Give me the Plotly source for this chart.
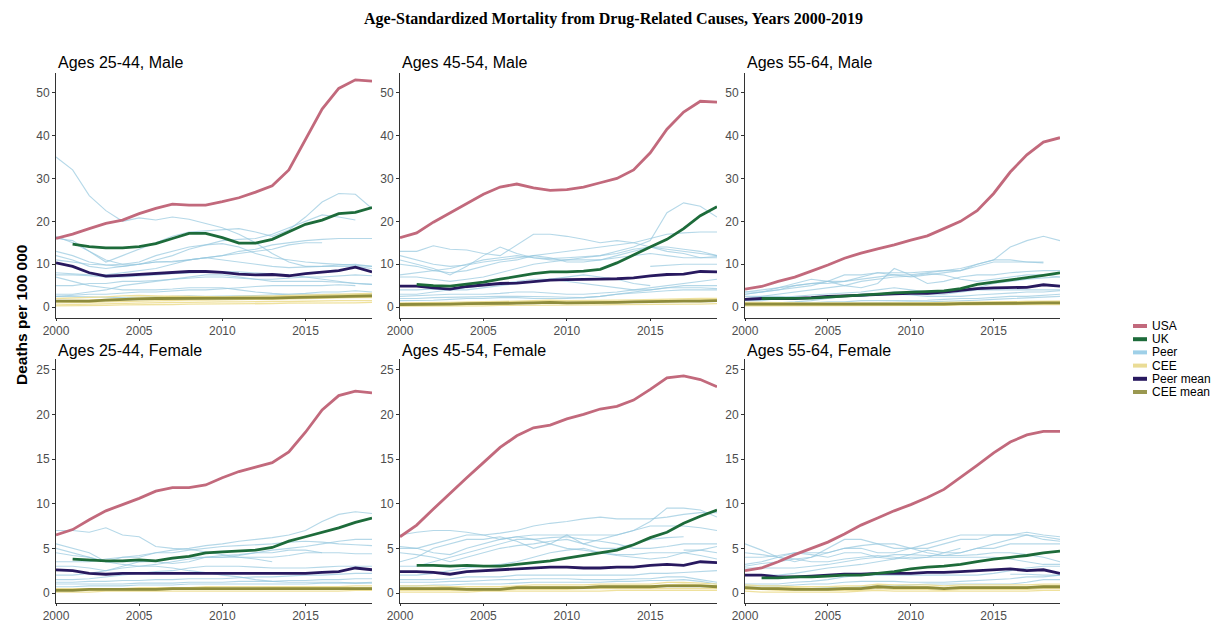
import plotly.graph_objects as go

W, H = 1223, 622
years = list(range(2000, 2020))
N = None

# ---------------- Ages 25-44, Male ----------------
usa_m2544 = [16, 17, 18.3, 19.5, 20.3, 21.8, 23, 24, 23.8, 23.8, 24.6, 25.5, 26.8, 28.3, 32, 39, 46.2, 51, 53, 52.7]
uk_m2544 = [N, 14.7, 14.1, 13.8, 13.8, 14.1, 14.8, 16, 17.2, 17.2, 16.2, 14.9, 14.9, 15.8, 17.5, 19.3, 20.3, 21.8, 22.1, 23.2]
peer_mean_m2544 = [10.3, 9.5, 8, 7.2, 7.4, 7.6, 7.9, 8, 8.3, 8.3, 8.1, 7.7, 7.5, 7.6, 7.3, 7.8, 8.2, 8.5, 9.3, 8.2]
cee_mean_m2544 = [1.4, 1.4, 1.4, 1.6, 1.8, 1.9, 2.0, 2.0, 2.0, 2.0, 2.0, 2.1, 2.1, 2.1, 2.2, 2.3, 2.4, 2.5, 2.5, 2.6]
peer_m2544 = [
    [35, 32, 26, 22.5, 20, 20.8, 20.3, 21, 20.5, 19.5, 18.5, 17, 15, 12.5, 10.5, 9.5, 9.5, 9.6, 9.5, 9.0],
    [16, 15.5, 13, 10.5, 12, 13.5, 15, 16.5, 17.5, 17.8, 18, 18.3, 17.5, 16.5, 18, 21, 24.5, 26.5, 26.3, 23],
    [13, 12, 10.5, 9.8, 9.5, 10, 11, 12, 13.5, 14.5, 15.5, 15.8, 16, 17, 18.5, 20, 21.5, 21, 20.3, N],
    [12, 11, 9.5, 9, 9.5, 10, 10.5, 10.5, 11, 11.5, 12, 13, 13.5, 14.5, 15, 15.5, 15.8, 16, 16, 16],
    [11, 10.5, 10, 9.8, 10, 10, 10.5, 10.7, 11, 11.5, 12, 12.5, 13, 13.5, 14.5, 15, 15, N, N, N],
    [16.5, 15, 13, 11, 10, 10.5, 12, 13, 14, 14.5, 14.8, 14, 12.5, 11.5, 11, 10.5, 10.2, 10, 9.8, 9.5],
    [8, 7.8, 7.5, 7.5, 8, 8.5, 9, 10, 11, 11.5, 11, 10.5, 10, 9.5, 9.2, 9.3, 9.5, 9.8, 10, 9.5],
    [7.5, 7.5, 7.3, 7, 7, 7.2, 7.5, 7.8, 8, 8.2, 8.3, 8.2, 8, 7.8, 7.5, 7, 6.5, 6, 5.5, 5.3],
    [5, 5, 5.5, 5.5, 6, 6, 6.2, 6.5, 6.8, 7, 7, 6.8, 6.5, 6.5, 6.8, 7, 7, 7.2, 7.5, 7.3],
    [3, 3, 3.5, 4, 5, 5.5, 6, 6.5, 7, 7.5, 7.5, 7, 6.5, 6, 6, 6, 6, 5.8, 5.5, 5.3],
    [2.5, 2.7, 3, 3, 3.2, 3.5, 3.5, 3.8, 4, 4, 4.2, 4.5, 4.8, 5, 5, 5, 5, 5.2, 5, N],
    [7, 6, 5, 4.5, 4, 4, 4, 4.2, 4.5, 4.5, 4.5, 4, 3.5, 3.2, 3, 3, 3, 3, 3, 3],
    [2.5, 2.5, 2.4, 2.3, 2.2, 2.3, 2.4, 2.5, 2.6, 2.5, 2.5, 2.6, 2.7, 2.8, 3, 3.2, 3.5, 3.5, 3.8, 3.5],
]
cee_m2544 = [
    [1.5, 1.5, 1.6, 1.8, 2, 2.2, 2.4, 2.5, 2.5, 2.4, 2.4, 2.5, 2.5, 2.6, 2.7, 2.8, 2.9, 3, 3.1, 3.2],
    [1, 1, 1.1, 1.2, 1.3, 1.4, 1.5, 1.5, 1.6, 1.6, 1.7, 1.7, 1.8, 1.8, 1.9, 2, 2, 2.1, 2.2, 2.2],
    [0.5, 0.6, 0.7, 0.8, 0.9, 1, 1, 1.1, 1.1, 1.2, 1.2, 1.2, 1.3, 1.3, 1.3, 1.4, 1.4, 1.5, 1.5, 1.5],
    [2, 2.1, 2.2, 2.4, 2.6, 2.7, 2.6, 2.5, 2.4, 2.3, 2.2, 2.2, 2.3, 2.4, 2.5, 2.6, 2.7, 2.8, 2.9, 3],
    [0.3, 0.3, 0.4, 0.4, 0.5, 0.5, 0.6, 0.6, 0.7, 0.7, 0.7, 0.8, 0.8, 0.8, 0.9, 0.9, 1, 1, 1, 1.1],
]

# ---------------- Ages 45-54, Male ----------------
usa_m4554 = [16.2, 17.3, 19.8, 22, 24, 26.3, 28, 28.7, 27.8, 27.2, 27.4, 28, 29, 30, 32, 36, 41.5, 45.5, 48, 47.8]
uk_m4554 = [N, 5.3, 5.0, 4.9, 5.3, 5.8, 6.5, 7.2, 7.8, 8.2, 8.2, 8.4, 8.8, 10.3, 12.2, 14, 15.8, 18.3, 21.3, 23.4]
peer_mean_m4554 = [4.9, 4.9, 4.5, 4.2, 4.8, 5.2, 5.5, 5.6, 6, 6.3, 6.4, 6.4, 6.5, 6.6, 6.8, 7.3, 7.6, 7.7, 8.3, 8.2]
cee_mean_m4554 = [0.6, 0.6, 0.7, 0.7, 0.8, 0.8, 0.8, 0.9, 1.0, 1.1, 1.0, 1.0, 1.0, 1.1, 1.2, 1.3, 1.4, 1.4, 1.4, 1.5]
peer_m4554 = [
    [13, 13, 14.3, 13.5, 13.3, 12.5, 12, 14.5, 17, 17, 16.5, 15.8, 15, 15.5, 15, 14, 13, 12.5, 11.5, 11.5],
    [11, 10, 9, 7.5, 9.5, 12, 14, 12.5, 11.5, 11, 11, 11.5, 12, 13, 14, 15.5, 22, 24.3, 23.5, 21],
    [10, 9.5, 8.5, 8, 8.5, 9.5, 10.5, 11, 12, 12.5, 13, 13.5, 14, 14.5, 15, 16, 17, 17.3, 17.5, 17.5],
    [7.5, 8, 8.5, 9, 10, 11, 11.5, 12, 11.5, 11.3, 11.5, 11.8, 12, 12.5, 13.5, 14, 14, 13.5, 13, 12],
    [12, 11, 10, 9.5, 9.8, 10.5, 11, 11.5, 12, 11.5, 10.5, 10.5, 11, 12, 13, 14, 13.5, 13, 12.5, 12],
    [7, 7, 6.5, 6, 6.5, 7, 8, 9, 10, 10.5, 11, 11, 11, 11.5, 12, 12.5, 12, 11.5, 11.5, 11.8],
    [4, 4, 4.2, 4, 4, 4.5, 5, 5.5, 6, 6.5, 7, 7.5, 7, 6.5, 5.5, 5, N, N, N, N],
    [3, 3, 3.5, 4, 4.5, 5, 5.5, 6, 6.5, 6.5, 6, 5.5, 5, 4.5, 4, 4, 4.5, 5, 5, 5],
    [2.5, 2.6, 2.8, 3, 3, 3, 3.2, 3.5, 3.5, 3.3, 3, 3, 3.2, 3.5, 4, 4.5, 5, 5.5, 6, 6.5],
    [2, 2, 2.2, 2.3, 2.3, 2.5, 2.5, 2.5, 2.5, 2.4, 2.3, 2.2, 2.5, 3, 3.5, 4, 4.5, 4.5, 4.5, 4.3],
    [1.5, 1.5, 1.6, 1.8, 2, 2, 2.2, 2.2, 2, 2, 2, 2.2, 2.5, 3, 3.2, 3.5, 3.8, 4, 4, 4],
    [N, N, N, N, N, N, N, N, N, N, N, N, N, N, N, 9.5, 9.8, 10, 10, 10],
]
cee_m4554 = [
    [1, 1, 1.1, 1.1, 1.2, 1.2, 1.3, 1.4, 1.5, 1.6, 1.5, 1.5, 1.5, 1.6, 1.7, 1.8, 1.9, 1.9, 2, 2],
    [0.5, 0.5, 0.6, 0.6, 0.6, 0.7, 0.7, 0.8, 0.9, 1, 1, 1, 1, 1.1, 1.1, 1.2, 1.3, 1.3, 1.3, 1.4],
    [0.2, 0.2, 0.3, 0.3, 0.3, 0.3, 0.4, 0.4, 0.4, 0.5, 0.5, 0.5, 0.5, 0.6, 0.6, 0.6, 0.7, 0.7, 0.7, 0.8],
    [0.8, 0.8, 0.9, 0.9, 1, 1, 1.1, 1.2, 1.3, 1.4, 1.2, 1.2, 1.2, 1.3, 1.4, 1.5, 1.6, 1.6, 1.7, 1.8],
]

# ---------------- Ages 55-64, Male ----------------
usa_m5564 = [4.2, 4.8, 6, 7, 8.4, 9.8, 11.4, 12.6, 13.6, 14.5, 15.6, 16.6, 18.3, 20, 22.5, 26.5, 31.5, 35.5, 38.5, 39.5]
uk_m5564 = [N, 2, 2, 2, 2.1, 2.3, 2.5, 2.8, 3.0, 3.3, 3.5, 3.6, 3.8, 4.3, 5.3, 5.8, 6.3, 6.8, 7.4, 8.0]
peer_mean_m5564 = [1.8, 2, 2, 2, 2.2, 2.5, 2.6, 2.8, 3, 3.1, 3.2, 3.2, 3.5, 3.9, 4.3, 4.5, 4.6, 4.6, 5.2, 4.9]
cee_mean_m5564 = [0.7, 0.7, 0.6, 0.6, 0.6, 0.6, 0.6, 0.6, 0.7, 0.7, 0.7, 0.7, 0.7, 0.8, 0.8, 0.8, 0.9, 0.9, 1.0, 1.0]
peer_m5564 = [
    [3.5, 3.5, 4, 5, 5.5, 5.5, 6, 7, 8, 8, 8, 8.3, 8.5, 9, 10, 11, 14, 15.5, 16.5, 15.5],
    [3, 3.5, 4, 4.5, 5, 6, 7.5, 7.5, 8, 7.5, 7, 7.5, 8, 8.5, 9.5, 10.5, 10.5, 10.5, 10.3, N],
    [3, 3.5, 4.5, 5.5, 6.5, 6, 5, 4.5, 5.5, 9, 7.5, 5.5, 6, 7, 7.5, 7.5, 8, 8.3, 8.5, 8.5],
    [3.5, 4, 4.5, 5, 5.5, 6, 6, 6.5, 7, 7.5, 7.5, 8, 8.5, 8.5, 10, 11, 11, 10.5, 10.5, N],
    [2, 2.5, 3, 3.5, 4, 4.5, 5, 6, 6.5, 7, 7.2, 7.8, 7.5, 6.5, 6, 6.5, 7, 7.5, 7.5, 7],
    [1.5, 1.5, 2, 2.5, 2.8, 3, 3.2, 3.5, 4, 4.5, 4, 3.5, 3.5, 4, 4.5, 5.5, 6, 6.5, 6.8, 7],
    [2.5, 2.5, 2.5, 2.3, 2.2, 2.2, 2.5, 2.5, 3, 3.5, 3.5, 3, 3, 3.5, 4, 4, 4, 4, 4, 4],
    [1, 1, 1, 1.2, 1.5, 2, 2.5, 3, 3, 3, 2.8, 2.5, 2.5, 2.5, 2.8, 3, 3.2, 3.5, 3.5, 3.8],
    [1, 1, 1, 1, 1, 1.2, 1.2, 1.5, 1.5, 1.5, 1.6, 1.6, 1.8, 2, 2, 2.2, 2.5, 2.5, 2.8, 3],
    [0.5, 0.5, 0.6, 0.6, 0.7, 0.8, 0.8, 1, 1, 1.1, 1.2, 1.2, 1.3, 1.5, 1.6, 1.8, 2, 2.2, 2.3, 2.5],
]
cee_m5564 = [
    [0.9, 0.9, 0.8, 0.8, 0.8, 0.8, 0.8, 0.9, 0.9, 1, 1, 1, 1, 1.1, 1.1, 1.2, 1.2, 1.3, 1.3, 1.4],
    [0.5, 0.5, 0.5, 0.5, 0.5, 0.5, 0.5, 0.5, 0.6, 0.6, 0.6, 0.6, 0.6, 0.6, 0.6, 0.7, 0.7, 0.7, 0.8, 0.8],
    [0.3, 0.3, 0.3, 0.3, 0.3, 0.3, 0.3, 0.4, 0.4, 0.4, 0.4, 0.4, 0.4, 0.5, 0.5, 0.5, 0.5, 0.6, 0.6, 0.6],
    [1.1, 1.1, 1, 1, 0.9, 0.9, 0.9, 0.9, 1, 1, 1, 1, 1.1, 1.1, 1.1, 1.2, 1.2, 1.3, 1.3, 1.3],
]

# ---------------- Ages 25-44, Female ----------------
usa_f2544 = [6.5, 7.1, 8.2, 9.2, 9.9, 10.6, 11.4, 11.8, 11.8, 12.1, 12.9, 13.6, 14.1, 14.6, 15.8, 18, 20.5, 22.1, 22.6, 22.4]
uk_f2544 = [N, 3.8, 3.7, 3.6, 3.6, 3.7, 3.6, 3.9, 4.1, 4.5, 4.6, 4.7, 4.8, 5.1, 5.8, 6.3, 6.8, 7.3, 7.9, 8.4]
peer_mean_f2544 = [2.6, 2.5, 2.2, 2.1, 2.2, 2.2, 2.2, 2.2, 2.2, 2.2, 2.2, 2.2, 2.2, 2.2, 2.2, 2.2, 2.3, 2.4, 2.8, 2.6]
cee_mean_f2544 = [0.3, 0.3, 0.4, 0.4, 0.4, 0.4, 0.4, 0.5, 0.5, 0.5, 0.5, 0.5, 0.5, 0.5, 0.5, 0.5, 0.5, 0.5, 0.5, 0.5]
peer_f2544 = [
    [7, 7, 6.8, 7.3, 6.5, 6.3, 5.2, 5, 4.9, 4.6, 4.3, 4, 3.8, 3.5, N, N, N, N, N, N],
    [5.5, 5, 4.5, 3.5, 4, 4, 4.5, 4.8, 5, 5.3, 5.5, 5.8, 6, 6.2, 6.5, 7, 8, 8.8, 9.1, 8.9],
    [3.5, 3.5, 3.5, 3.8, 4, 4.2, 4.5, 4.5, 4.8, 5, 5.2, 5.3, 5.4, 5.5, 5.7, 5.8, 5.7, 5.5, 5.4, 5.3],
    [3, 3, 2.8, 2.5, 3, 3.5, 3.5, 3.3, 3.5, 4, 4, 4.2, 4.5, 4.8, 5, 5.2, 5.5, 5.8, 6, 6],
    [5, 4.5, 4, 3.5, 3.5, 3.5, 3.6, 3.8, 4, 4, 4.2, 4.3, 4.5, 4.5, 4.8, 4.8, 4.5, 4.5, 4.4, 4.4],
    [2, 2, 2.2, 2.5, 2.8, 3, 3.2, 3.5, 3.8, 4, 4, 4, 4, 4, 4.2, 4.5, 4.5, N, N, N],
    [1.5, 1.5, 1.6, 1.8, 2, 2.2, 2.4, 2.5, 2.8, 3, 3, 3, 2.9, 2.8, 2.8, 2.8, 2.9, 3, 3, 3],
    [4.5, 4.2, 4, 3.5, 3.2, 3, 3, 2.8, 2.5, 2.3, 2, 1.8, 1.5, 1.3, 1.2, 1.2, 1.2, 1.2, 1.1, 1.1],
    [1.2, 1.2, 1.3, 1.3, 1.4, 1.4, 1.5, 1.5, 1.6, 1.6, 1.6, 1.7, 1.8, 1.8, 1.9, 2, 2, 2.1, 2.2, 2.2],
    [1, 1, 1, 1, 1, 1.1, 1.1, 1.1, 1.2, 1.2, 1.2, 1.3, 1.3, 1.3, 1.4, 1.4, 1.5, 1.5, 1.6, 1.6],
    [0.7, 0.7, 0.8, 0.8, 0.8, 0.9, 0.9, 0.9, 1, 1, 1, 1, 1, 1, 1, 1, 1.1, 1.1, 1.1, 1.2],
]
cee_f2544 = [
    [0.5, 0.5, 0.5, 0.5, 0.5, 0.6, 0.6, 0.6, 0.6, 0.7, 0.7, 0.7, 0.7, 0.7, 0.7, 0.7, 0.7, 0.7, 0.8, 0.8],
    [0.3, 0.3, 0.3, 0.3, 0.3, 0.3, 0.3, 0.4, 0.4, 0.4, 0.4, 0.4, 0.4, 0.4, 0.4, 0.4, 0.4, 0.4, 0.4, 0.4],
    [0.1, 0.1, 0.1, 0.2, 0.2, 0.2, 0.2, 0.2, 0.2, 0.2, 0.2, 0.2, 0.2, 0.2, 0.2, 0.2, 0.2, 0.2, 0.3, 0.3],
    [0.4, 0.4, 0.5, 0.5, 0.4, 0.4, 0.5, 0.5, 0.6, 0.6, 0.5, 0.5, 0.5, 0.6, 0.6, 0.6, 0.6, 0.6, 0.6, 0.6],
]

# ---------------- Ages 45-54, Female ----------------
usa_f4554 = [6.3, 7.6, 9.4, 11.2, 12.9, 14.6, 16.3, 17.6, 18.5, 18.8, 19.5, 20, 20.6, 20.9, 21.6, 22.8, 24.1, 24.3, 23.9, 23.1]
uk_f4554 = [N, 3.1, 3.1, 3.0, 3.1, 3.0, 3.0, 3.2, 3.4, 3.6, 3.9, 4.2, 4.5, 4.8, 5.4, 6.2, 6.8, 7.8, 8.6, 9.3]
peer_mean_f4554 = [2.4, 2.4, 2.3, 2.1, 2.4, 2.5, 2.6, 2.7, 2.8, 2.9, 2.9, 2.8, 2.8, 2.9, 2.9, 3.1, 3.2, 3.1, 3.5, 3.4]
cee_mean_f4554 = [0.5, 0.5, 0.5, 0.5, 0.4, 0.4, 0.4, 0.6, 0.6, 0.6, 0.6, 0.6, 0.7, 0.7, 0.7, 0.7, 0.8, 0.8, 0.8, 0.7]
peer_f4554 = [
    [6.5, 6.8, 7, 7, 6.8, 6.5, 6, 6.3, 6, 5.5, 5, 4.8, 4.5, 4.3, 4.3, 4.5, 4.5, 4.5, 4.2, 3.8],
    [5, 5, 5.5, 6, 6.5, 6.5, 6.7, 7, 7.5, 7.8, 8, 8.3, 8.5, 8.3, 8.3, 8.3, 8.5, 8.8, 9, 9],
    [5.2, 5, 4.5, 4.3, 5, 5.5, 6, 6.3, 6.5, 6.5, 6.5, 6.5, 6.5, 6.5, 7, 7.5, 7.5, 7.5, 7.3, 7],
    [3.5, 4, 5, 5.5, 6, 6, 6.3, 5.8, 5, 5.5, 6.5, 5.5, 6, 6.5, 7, 8, 9.5, 9.5, 9.3, 8.5],
    [4.5, 4.3, 4, 3.5, 4, 4.5, 5, 5.3, 5.5, 5.8, 6, 5.5, 5, 5, 5.5, 6, 6.2, 6.3, N, N],
    [3, 3, 3.5, 4, 4.5, 5, 5.5, 6, 6, 6.2, 6.3, 6, 5.8, 5.5, 5, 5, 5.2, 5.5, 5.5, 5.5],
    [2, 2, 2.2, 2.5, 2.8, 3, 3.2, 3.5, 4, 4.5, 4.8, 5, 4.5, 4.2, 4, 3.8, 4, 4.5, 4.8, 5.2],
    [1.5, 1.5, 1.5, 1.6, 1.8, 1.8, 1.8, 2, 2, 2, 2, 2, 2, 2, 2, 2.2, 2.2, 2.3, 2.4, 2.5],
    [1.2, 1.2, 1.2, 1.3, 1.3, 1.4, 1.5, 1.5, 1.6, 1.6, 1.6, 1.5, 1.5, 1.5, 1.6, 1.6, 1.8, 1.8, 1.5, 1.2],
    [0.8, 0.8, 0.9, 0.9, 1, 1, 1, 1.1, 1.2, 1.2, 1.2, 1.2, 1.2, 1.3, 1.3, 1.4, 1.4, 1.5, 1.3, 1],
    [N, N, N, N, N, N, N, N, N, N, N, N, N, N, N, N, N, 4.8, 4.8, 4.5],
]
cee_f4554 = [
    [0.8, 0.8, 0.8, 0.7, 0.7, 0.7, 0.7, 0.8, 0.9, 0.9, 0.9, 0.9, 1, 1, 1, 1, 1.2, 1.2, 1.1, 1],
    [0.3, 0.3, 0.3, 0.3, 0.3, 0.3, 0.3, 0.4, 0.4, 0.4, 0.4, 0.5, 0.5, 0.5, 0.5, 0.5, 0.5, 0.5, 0.5, 0.5],
    [0.1, 0.1, 0.1, 0.1, 0.1, 0.2, 0.2, 0.2, 0.2, 0.2, 0.2, 0.2, 0.2, 0.3, 0.3, 0.3, 0.3, 0.3, 0.3, 0.3],
    [0.6, 0.6, 0.6, 0.6, 0.5, 0.5, 0.5, 0.7, 0.7, 0.7, 0.7, 0.7, 0.8, 0.8, 0.8, 0.8, 0.9, 1.0, 0.9, 0.8],
]

# ---------------- Ages 55-64, Female ----------------
usa_f5564 = [2.5, 2.8, 3.5, 4.3, 5, 5.7, 6.6, 7.6, 8.4, 9.2, 9.9, 10.7, 11.6, 12.9, 14.3, 15.7, 16.9, 17.7, 18.1, 18.1]
uk_f5564 = [N, 1.7, 1.7, 1.8, 1.8, 1.9, 2.0, 2.0, 2.2, 2.4, 2.7, 2.9, 3.0, 3.2, 3.5, 3.8, 4.0, 4.2, 4.5, 4.7]
peer_mean_f5564 = [2.0, 2.0, 1.8, 1.8, 1.9, 2.0, 2.1, 2.1, 2.2, 2.2, 2.2, 2.3, 2.3, 2.4, 2.5, 2.6, 2.7, 2.5, 2.6, 2.2]
cee_mean_f5564 = [0.6, 0.5, 0.5, 0.4, 0.4, 0.4, 0.5, 0.5, 0.7, 0.6, 0.6, 0.6, 0.5, 0.6, 0.6, 0.6, 0.6, 0.6, 0.7, 0.7]
peer_f5564 = [
    [5.5, 4.8, 4, 3.5, 4, 5, 6, 6, 5.5, 5, 5, 5.5, 6, 6.5, 6.5, 6.5, 6.5, 6.5, 6.3, 6],
    [4, 4, 4.2, 4.5, 4.5, 4.5, 5, 5, 4.5, 4.5, 5, 5, 5.5, 6, 6, 6.5, 6.5, 6.8, 6.5, 6.3],
    [3.2, 3.5, 4, 4.5, 4.3, 4, 4.5, 4.5, 4, 3.8, 4.3, 4.8, 4.5, 4.5, 5, 5.5, 6, 6.5, 6, 5.8],
    [3, 3.3, 3.5, 3.8, 4, 4.5, 5, 5.3, 5.5, 5.5, 5, 4.5, 4.2, 4.5, 5, 5, 5.5, 5.5, 5.5, 5.5],
    [4.5, 4.3, 4, 3.8, 3.5, 3.5, 3.8, 4, 4.2, 4, 3.8, 4, 4.5, 5, N, N, N, N, N, N],
    [2.8, 2.8, 2.8, 2.8, 3, 3.2, 3.5, 3.8, 4, 4.3, 4.3, 4.2, 4.2, 4.2, 4.3, 4.5, 4.5, 4.3, 4, 3.5],
    [2, 2, 2, 2.2, 2.5, 2.8, 3, 3.2, 3.5, 3.8, 4, 4, 4, 4, 4, 4, 3.8, 3.5, 3.2, 3.2],
    [1, 1, 1, 1.2, 1.3, 1.5, 1.8, 2, 2, 2, 2, 2, 2, 2, 2, 2.2, 2.5, 2.8, 3, 3],
    [0.8, 0.8, 0.8, 0.9, 1, 1, 1.2, 1.3, 1.3, 1.3, 1.2, 1.2, 1.2, 1.3, 1.4, 1.5, 1.6, 1.8, 1.8, 2],
    [0.5, 0.5, 0.5, 0.5, 0.5, 0.6, 0.6, 0.7, 0.8, 0.8, 0.9, 1, 1, 1, 1, 1, 1, 1.2, 1.5, 1.5],
    [N, N, N, N, N, N, N, N, N, N, N, N, N, N, N, N, 2.1, 2.1, 2, 2],
]
cee_f5564 = [
    [0.9, 0.8, 0.8, 0.7, 0.7, 0.7, 0.8, 0.8, 1, 0.9, 0.9, 0.9, 0.8, 0.9, 0.9, 0.9, 0.9, 0.9, 1, 1],
    [0.4, 0.4, 0.3, 0.3, 0.3, 0.3, 0.3, 0.3, 0.5, 0.4, 0.4, 0.4, 0.3, 0.4, 0.4, 0.4, 0.4, 0.4, 0.5, 0.5],
    [0.2, 0.1, 0.1, 0.1, 0.1, 0.1, 0.1, 0.2, 0.3, 0.2, 0.2, 0.2, 0.2, 0.2, 0.2, 0.2, 0.2, 0.2, 0.3, 0.3],
    [0.7, 0.6, 0.6, 0.6, 0.5, 0.5, 0.6, 0.6, 0.8, 0.7, 0.7, 0.7, 0.6, 0.7, 0.7, 0.7, 0.7, 0.7, 0.8, 0.8],
]

x_ticks = [2000, 2005, 2010, 2015]
y_ticks_top = [0, 10, 20, 30, 40, 50]
y_ticks_bottom = [0, 5, 10, 15, 20, 25]

series_names = ["USA", "UK", "Peer", "CEE", "Peer mean", "CEE mean"]
colors = {
    "USA": "#c2697c",
    "UK": "#1d6b3a",
    "Peer": "rgba(150,200,222,0.7)",
    "CEE": "rgba(236,220,140,0.85)",
    "Peer mean": "#28195f",
    "CEE mean": "#8e8c3c",
}
legend_swatch = {
    "USA": "#c2697c", "UK": "#1d6b3a", "Peer": "#9fd0e8",
    "CEE": "#eadc96", "Peer mean": "#28195f", "CEE mean": "#9a9850",
}

panels = [
    ("Ages 25-44, Male", usa_m2544, uk_m2544, peer_m2544, cee_m2544, peer_mean_m2544, cee_mean_m2544),
    ("Ages 45-54, Male", usa_m4554, uk_m4554, peer_m4554, cee_m4554, peer_mean_m4554, cee_mean_m4554),
    ("Ages 55-64, Male", usa_m5564, uk_m5564, peer_m5564, cee_m5564, peer_mean_m5564, cee_mean_m5564),
    ("Ages 25-44, Female", usa_f2544, uk_f2544, peer_f2544, cee_f2544, peer_mean_f2544, cee_mean_f2544),
    ("Ages 45-54, Female", usa_f4554, uk_f4554, peer_f4554, cee_f4554, peer_mean_f4554, cee_mean_f4554),
    ("Ages 55-64, Female", usa_f5564, uk_f5564, peer_f5564, cee_f5564, peer_mean_f5564, cee_mean_f5564),
]

# panel geometry in pixels
col_px = [(56, 372), (400, 717), (745, 1060)]
row_px = [(73, 318), (359, 603)]
row_title_px = [63, 350]
row_range = [[-2.55, 54.6], [-1.12, 26.2]]

FONT = "Liberation Sans, Arial, sans-serif"
fig = go.Figure()
layout = dict(
    width=W, height=H,
    margin=dict(l=0, r=0, t=0, b=0, pad=0, autoexpand=False),
    paper_bgcolor="white", plot_bgcolor="white", showlegend=False,
    font=dict(family=FONT, color="#4d4d4d"),
)
annotations = []
shapes = []

for i, (title, usa, uk, peers, cees, pmean, cmean) in enumerate(panels):
    r, c = divmod(i, 3)
    k = "" if i == 0 else str(i + 1)
    xa, ya = "x" + k, "y" + k
    x0, x1 = col_px[c]
    y0, y1 = row_px[r]
    layout["xaxis" + k] = dict(
        domain=[x0 / W, x1 / W], anchor=ya, range=[2000, 2019], automargin=False,
        tickvals=x_ticks, ticks="outside", ticklen=2, tickcolor="#333333",
        showline=True, linecolor="#333333", linewidth=1, showgrid=False, zeroline=False,
        tickfont=dict(size=12, color="#4d4d4d"),
    )
    layout["yaxis" + k] = dict(
        domain=[1 - y1 / H, 1 - y0 / H], anchor=xa, range=row_range[r], automargin=False,
        tickvals=y_ticks_top if r == 0 else y_ticks_bottom,
        ticks="outside", ticklen=3, tickcolor="#333333",
        showline=True, linecolor="#333333", linewidth=1, showgrid=False, zeroline=False,
        tickfont=dict(size=12, color="#4d4d4d"),
    )
    for s in peers:
        fig.add_trace(go.Scatter(x=years, y=s, mode="lines", xaxis=xa, yaxis=ya,
                                 line=dict(color=colors["Peer"], width=1.1), hoverinfo="skip"))
    for s in cees:
        fig.add_trace(go.Scatter(x=years, y=s, mode="lines", xaxis=xa, yaxis=ya,
                                 line=dict(color=colors["CEE"], width=1.3), hoverinfo="skip"))
    fig.add_trace(go.Scatter(x=years, y=cmean, mode="lines", xaxis=xa, yaxis=ya,
                             line=dict(color=colors["CEE mean"], width=2.8), name="CEE mean"))
    fig.add_trace(go.Scatter(x=years, y=pmean, mode="lines", xaxis=xa, yaxis=ya,
                             line=dict(color=colors["Peer mean"], width=2.8), name="Peer mean"))
    fig.add_trace(go.Scatter(x=years, y=uk, mode="lines", xaxis=xa, yaxis=ya,
                             line=dict(color=colors["UK"], width=2.8), name="UK"))
    fig.add_trace(go.Scatter(x=years, y=usa, mode="lines", xaxis=xa, yaxis=ya,
                             line=dict(color=colors["USA"], width=2.8), name="USA"))
    annotations.append(dict(
        text=title, xref="paper", yref="paper", x=x0 / W, y=1 - row_title_px[r] / H,
        xanchor="left", yanchor="middle", showarrow=False,
        font=dict(size=16, color="black", family=FONT),
    ))

# figure title
annotations.append(dict(
    text="<b>Age-Standardized Mortality from Drug-Related Causes, Years 2000-2019</b>",
    xref="paper", yref="paper", x=613 / W, y=1 - 19 / H, xanchor="center", yanchor="middle",
    showarrow=False, font=dict(size=16, color="black", family="Liberation Serif, Times New Roman, serif"),
))
# shared y-axis title
annotations.append(dict(
    text="<b>Deaths per 100 000</b>", xref="paper", yref="paper", x=21 / W, y=1 - 315 / H,
    xanchor="center", yanchor="middle", textangle=-90, showarrow=False,
    font=dict(size=15.5, color="black", family=FONT),
))

# legend
leg_y0, leg_dy = 326, 13.2
for j, name in enumerate(series_names):
    yy = 1 - (leg_y0 + j * leg_dy) / H
    shapes.append(dict(type="line", xref="paper", yref="paper",
                       x0=1133 / W, x1=1147 / W, y0=yy, y1=yy,
                       line=dict(color=legend_swatch[name], width=4)))
    annotations.append(dict(text=name, xref="paper", yref="paper", x=1150 / W, y=yy,
                            xanchor="left", yanchor="middle", showarrow=False,
                            font=dict(size=12, color="black", family=FONT)))

layout["annotations"] = annotations
layout["shapes"] = shapes
fig.update_layout(**layout)
fig.write_html("out.html")
